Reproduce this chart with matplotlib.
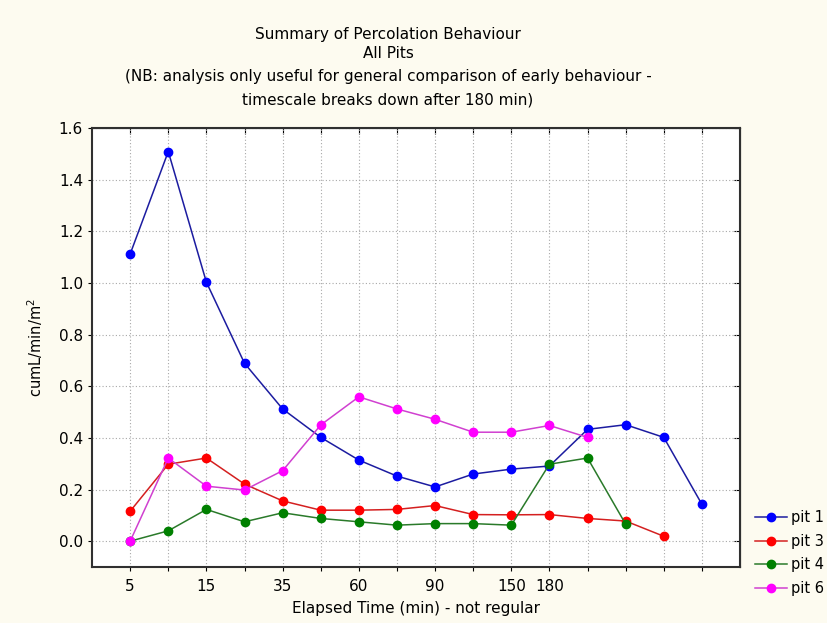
import matplotlib
matplotlib.use("Agg")
import matplotlib.pyplot as plt
import numpy as np

tick_positions = list(range(16))
tick_labels = ["5", "", "15", "", "35", "", "60", "", "90", "", "150", "180", "", "", "", ""]

pit1 = [1.112, 1.509, 1.003, 0.689, 0.512, 0.402, 0.314, 0.252, 0.210, 0.260, 0.279, 0.291, 0.433, 0.451, 0.402, 0.143]
pit3 = [0.116, 0.298, 0.322, 0.221, 0.156, 0.120, 0.120, 0.123, 0.138, 0.103, 0.102, 0.103, 0.088, 0.078, 0.019]
pit4 = [0.0, 0.040, 0.123, 0.075, 0.110, 0.088, 0.075, 0.062, 0.068, 0.068, 0.062, 0.298, 0.322, 0.066]
pit6 = [0.0, 0.322, 0.213, 0.198, 0.273, 0.450, 0.559, 0.512, 0.472, 0.422, 0.422, 0.448, 0.402]

series = [
    ("pit 1", pit1, "#1c1ca0", "#0000ff"),
    ("pit 3", pit3, "#d42020", "#ff0000"),
    ("pit 4", pit4, "#2a7a2a", "#008000"),
    ("pit 6", pit6, "#d040d0", "#ff00ff"),
]

bg = "#fdfbf0"
fig = plt.figure(figsize=(8.27, 6.23), dpi=100, facecolor=bg)
ax = fig.add_axes([0.1113, 0.0899, 0.7835, 0.7046])
ax.set_facecolor("white")

for name, vals, lc, mc in series:
    ax.plot(range(len(vals)), vals, color=lc, lw=1.1, marker="o", ms=6,
            markerfacecolor=mc, markeredgecolor=mc, label=name)

ax.set_xlim(-1, 16)
ax.set_ylim(-0.1, 1.6)
ax.set_xticks(tick_positions)
ax.set_xticklabels(tick_labels)
yt = np.arange(0, 1.61, 0.2)
ax.set_yticks(yt)
ax.set_yticklabels([f"{v:.1f}" for v in yt])
ax.grid(True, linestyle=(0, (1, 2)), color="#a8a8a8", lw=0.8)
ax.tick_params(axis="both", direction="out", length=3, labelsize=11, color="black")
ax.tick_params(axis="x", pad=6)
for s in ax.spines.values():
    s.set_linewidth(1.5)
    s.set_color("#303030")

ax2 = ax.secondary_xaxis("top")
ax2.set_xticks(tick_positions)
ax2.set_xticklabels([])
ax2.tick_params(direction="in", length=4)
ax3 = ax.secondary_yaxis("right")
ax3.set_yticks(yt)
ax3.set_yticklabels([])
ax3.tick_params(direction="in", length=4)

ax.set_xlabel("Elapsed Time (min) - not regular", fontsize=11, labelpad=5)
ax.set_ylabel("cumL/min/m$^2$", fontsize=10.5, labelpad=10)

title_lines = [
    ("Summary of Percolation Behaviour", 34),
    ("All Pits", 54),
    ("(NB: analysis only useful for general comparison of early behaviour -", 77),
    ("timescale breaks down after 180 min)", 100),
]
for txt, ypx in title_lines:
    fig.text(388 / 827, 1 - ypx / 623, txt, ha="center", va="center", fontsize=11)

fig.legend(loc="center left", bbox_to_anchor=(749 / 827, 1 - 553 / 623),
           frameon=False, fontsize=10.5, handlelength=2.2, labelspacing=0.6,
           handletextpad=0.3, borderaxespad=0)

fig.savefig("out.png", dpi=100, facecolor=bg)
